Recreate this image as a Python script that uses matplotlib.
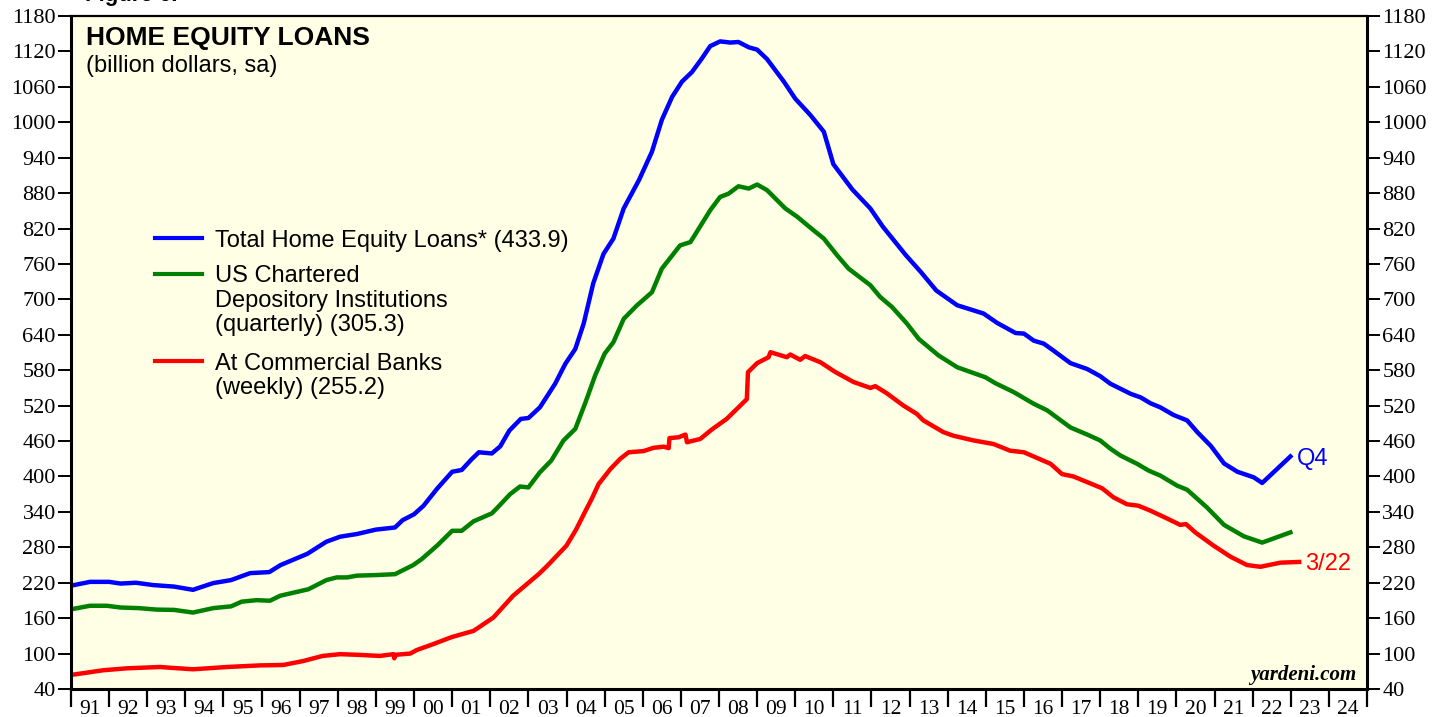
import matplotlib
matplotlib.use("Agg")
import matplotlib.pyplot as plt
from matplotlib.lines import Line2D
import numpy as np

W, H = 1448, 717

# Total home equity loans (quarterly), decimal years / billion dollars
total_x = [1991.0, 1991.5, 1992.0, 1992.3, 1992.7, 1993.16, 1993.7, 1994.2, 1994.73, 1995.2,
           1995.7, 1996.2, 1996.5, 1997.2, 1997.7, 1998.06, 1998.5, 1999.0, 1999.5, 1999.7,
           2000.0, 2000.25, 2000.6, 2001.0, 2001.25, 2001.5, 2001.7, 2002.04, 2002.26, 2002.5,
           2002.8, 2003.0, 2003.3, 2003.7, 2003.97, 2004.23, 2004.45, 2004.7, 2004.97, 2005.23,
           2005.5, 2005.9, 2006.24, 2006.5, 2006.77, 2007.03, 2007.29, 2007.55, 2007.77, 2008.03,
           2008.3, 2008.51, 2008.78, 2009.0, 2009.26, 2009.7, 2010.0, 2010.4, 2010.75, 2011.0,
           2011.5, 2011.97, 2012.3, 2012.9, 2013.3, 2013.7, 2014.25, 2014.94, 2015.3, 2015.78,
           2016.0, 2016.26, 2016.52, 2016.78, 2017.22, 2017.66, 2018.0, 2018.27, 2018.8, 2019.06,
           2019.32, 2019.58, 2019.93, 2020.28, 2020.55, 2020.9, 2021.25, 2021.6, 2022.03, 2022.25,
           2022.99]
total_y = [215, 221.5, 221.5, 218.6, 220, 216, 213.5, 208, 219.4, 224.5,
           236.3, 238, 250, 269, 289.5, 298, 302.5, 310, 313.6, 326,
           336, 350.5, 379, 408, 411, 428.5, 441, 439, 451, 477.7,
           497.5, 499, 517, 557, 591, 616, 659, 727, 777, 803,
           854, 902, 950, 1004, 1043, 1069, 1085, 1108, 1129, 1137,
           1135, 1136, 1127, 1123, 1107, 1069, 1040, 1012, 984, 929,
           886, 854, 823, 775, 746, 715, 690, 676, 660, 643,
           642, 630, 625, 613, 592, 582, 570, 557, 540, 534,
           524, 517, 504, 495, 475, 452, 422, 408, 398.5, 389,
           433.9]

# US chartered depository institutions (quarterly)
depos_x = [1991.0, 1991.5, 1991.94, 1992.3, 1992.77, 1993.25, 1993.7, 1994.2, 1994.73, 1995.2,
           1995.48, 1995.87, 1996.22, 1996.49, 1997.23, 1997.7, 1997.97, 1998.24, 1998.5, 1999.0,
           1999.5, 1999.98, 2000.2, 2000.6, 2001.0, 2001.25, 2001.56, 2002.04, 2002.17, 2002.52,
           2002.78, 2003.0, 2003.3, 2003.6, 2003.92, 2004.23, 2004.5, 2004.75, 2005.0, 2005.23,
           2005.5, 2005.85, 2006.24, 2006.5, 2006.98, 2007.25, 2007.77, 2008.03, 2008.25, 2008.51,
           2008.78, 2009.0, 2009.26, 2009.74, 2010.05, 2010.48, 2010.75, 2011.1, 2011.4, 2011.97,
           2012.23, 2012.54, 2012.93, 2013.24, 2013.76, 2014.25, 2014.99, 2015.25, 2015.73, 2016.26,
           2016.61, 2017.22, 2017.66, 2018.0, 2018.27, 2018.53, 2018.97, 2019.27, 2019.58, 2020.02,
           2020.28, 2020.8, 2021.25, 2021.77, 2022.25, 2022.99]
depos_y = [175, 181, 181, 178, 177, 174.5, 174, 169.5, 177, 180,
           188, 190.5, 189.5, 198, 209, 224.5, 229, 229, 232, 233,
           234.5, 250, 260, 282.6, 308, 308, 324, 337.5, 346, 370,
           383, 381.5, 407, 427, 461, 480.6, 526, 571, 608, 627.5,
           667, 690, 712, 752, 791.5, 797, 851, 873.5, 879, 891.6,
           887.7, 894.5, 885, 854, 840, 817, 803, 774.6, 752, 724,
           704, 687, 659, 633, 605, 585, 568, 558, 543, 523,
           512, 483, 471, 461, 447, 435.5, 421.4, 410, 401.4, 384.4,
           377.6, 347.6, 318, 298.6, 288, 305.3]

# At commercial banks (weekly)
banks_x = [1991.0, 1991.85, 1992.46, 1993.34, 1993.6, 1994.2, 1995.1, 1995.96, 1996.57, 1997.1,
           1997.6, 1998.06, 1998.6, 1999.1, 1999.46, 1999.48, 1999.52, 1999.9, 2000.07, 2000.5,
           2000.99, 2001.56, 2002.08, 2002.6, 2002.96, 2003.27, 2003.5, 2003.75, 2004.0, 2004.25,
           2004.5, 2004.66, 2004.84, 2005.15, 2005.41, 2005.63, 2006.02, 2006.28, 2006.55, 2006.68,
           2006.7, 2006.94, 2007.12, 2007.16, 2007.51, 2007.8, 2008.2, 2008.51, 2008.73, 2008.76,
           2009.0, 2009.3, 2009.35, 2009.78, 2009.87, 2010.13, 2010.26, 2010.66, 2011.05, 2011.53,
           2011.97, 2012.1, 2012.4, 2012.84, 2013.19, 2013.36, 2013.89, 2014.15, 2014.68, 2015.2,
           2015.64, 2016.0, 2016.7, 2017.0, 2017.3, 2018.05, 2018.35, 2018.7, 2019.0, 2019.32,
           2019.75, 2020.1, 2020.25, 2020.5, 2020.98, 2021.42, 2021.85, 2022.2, 2022.73, 2023.22]
banks_y = [63.8, 71.8, 75, 77.3, 76, 73.4, 77.3, 80, 80.7, 87.5,
           96, 99, 97.7, 96, 99, 92, 98, 100, 106, 116,
           128, 138.4, 161, 198, 217.7, 234.6, 249, 266, 283, 310,
           342, 362, 387, 412.5, 430, 441, 443, 448.5, 450.5, 448,
           465, 466.4, 471, 458, 463.6, 479, 497.5, 517, 531, 576.6,
           592, 602, 610.5, 602, 606.6, 597.6, 604, 593.5, 577, 560,
           550, 553, 541, 520, 506, 495, 475, 469, 461, 455,
           443.6, 441, 421.4, 404, 400, 380, 364.6, 353, 350.5, 342,
           329, 318, 319.4, 305, 282.6, 264, 250, 247, 254, 255.2]

years = list(range(1991, 2026))
year_labels = [f"{y % 100:02d}" for y in years[:-1]]
y_ticks = list(range(40, 1181, 60))

BLUE, GREEN, RED = "#0000ff", "#008000", "#ff0000"
SERIF = "Liberation Serif"
SANS = "Liberation Sans"


def px(x, y):
    # pixel position -> figure fraction
    return x / W, 1 - y / H


fig = plt.figure(figsize=(W / 100, H / 100), dpi=100)
ax = fig.add_axes([71 / W, 1 - 689 / H, (1367 - 71) / W, (689 - 16) / H])
ax.set_facecolor("#ffffe5")

ax.plot(total_x, total_y, color=BLUE, lw=3.2, solid_joinstyle="round")
ax.plot(depos_x, depos_y, color=GREEN, lw=3.2, solid_joinstyle="round")
ax.plot(banks_x, banks_y, color=RED, lw=3.2, solid_joinstyle="round")

ax.set_xlim(1991, 2025)
ax.set_ylim(40, 1180)

ax.set_xticks(years)
ax.set_xticklabels([])
ax.set_xticks(np.array(years[:-1]) + 0.5, minor=True)
ax.set_xticklabels(year_labels, minor=True)
ax.tick_params(axis="x", which="major", direction="out", length=13, width=1.6, top=False)
ax.tick_params(axis="x", which="minor", length=0, pad=8, labelsize=15.5, top=False)

ax.set_yticks(y_ticks)
ax.tick_params(axis="y", direction="out", length=9.5, width=1.4, pad=1.5,
               left=True, right=True, labelleft=True, labelright=True, labelsize=16)
for lab in ax.get_xticklabels(minor=True):
    lab.set_family(SERIF)
for t in ax.yaxis.get_major_ticks():
    t.label1.set_family(SERIF)
    t.label2.set_family(SERIF)

for side in ["left", "right", "bottom"]:
    ax.spines[side].set_linewidth(2.2)
ax.spines["top"].set_linewidth(1.6)

# header (figure caption runs off the top edge)
fig.text(*px(85, 1), "Figure 6.", family=SANS, weight="bold", fontsize=16, va="baseline")
fig.text(*px(86, 45), "HOME EQUITY LOANS", family=SANS, weight="bold", fontsize=19, va="baseline")
fig.text(*px(86, 72), "(billion dollars, sa)", family=SANS, fontsize=17, va="baseline")

# legend
legend_rows = [
    (BLUE, 238, ["Total Home Equity Loans* (433.9)"]),
    (GREEN, 274, ["US Chartered", "Depository Institutions", "(quarterly) (305.3)"]),
    (RED, 361, ["At Commercial Banks", "(weekly) (255.2)"]),
]
for color, ycen, lines in legend_rows:
    x0, y0 = px(155, ycen)
    x1, _ = px(202, ycen)
    fig.add_artist(Line2D([x0, x1], [y0, y0], color=color, lw=3, transform=fig.transFigure))
    for i, line in enumerate(lines):
        fig.text(*px(215, ycen + 8.5 + 24.3 * i), line, family=SANS, fontsize=17, va="baseline")

# end-point labels
fig.text(*px(1297, 465), "Q4", color=BLUE, family=SANS, fontsize=17, va="baseline")
fig.text(*px(1305, 570), "3/22", color=RED, family=SANS, fontsize=17, va="baseline")
fig.text(*px(1356, 680), "yardeni.com", family=SERIF, weight="bold", style="italic",
         fontsize=15, ha="right", va="baseline")

fig.savefig("out.png", dpi=100, facecolor="white")
